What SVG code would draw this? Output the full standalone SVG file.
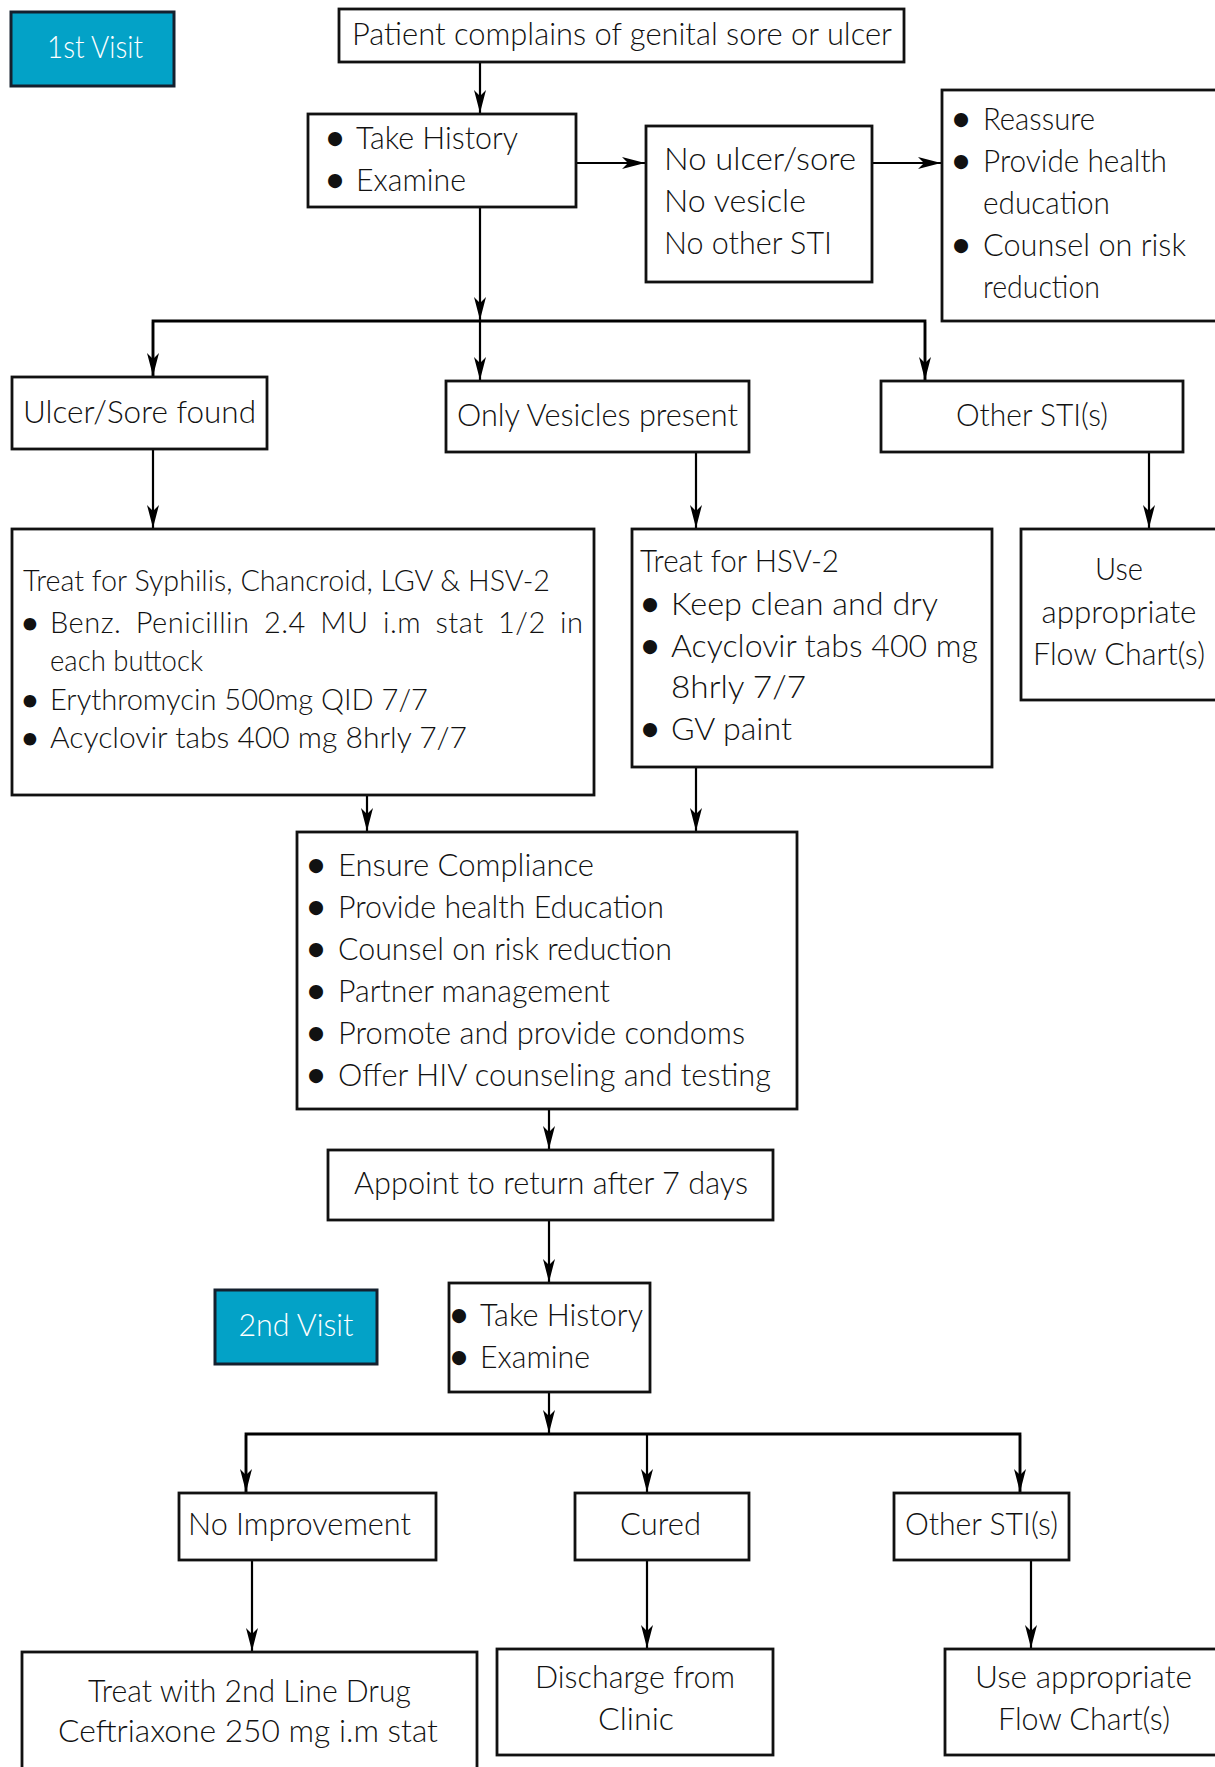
<svg xmlns="http://www.w3.org/2000/svg" width="1215" height="1767" viewBox="0 0 1215 1767">
<style>
.box{fill:#fff;stroke:#111;stroke-width:2.8}
.visit{fill:#03a2c7;stroke:#14202e;stroke-width:3}
.t{font-family:Lato,"Open Sans","Liberation Sans",sans-serif;font-weight:300;fill:#111;font-size:32px}
.s{font-size:29px}
.c{text-anchor:middle}
.b{text-anchor:middle;font-weight:700}
.w{fill:#fff}
.ln{stroke:#000;stroke-width:2.2;fill:none}
.bar{stroke:#000;stroke-width:2.8;fill:none}
</style>
<defs>
<marker id="ah" markerUnits="userSpaceOnUse" markerWidth="26" markerHeight="14" viewBox="-24 -7 26 14" refX="0" refY="0" orient="auto">
<path d="M0,0 L-23,-6 L-17,0 L-23,6 Z" fill="#000"/>
</marker>
</defs>
<rect width="1215" height="1767" fill="#fff"/>

<g id="connectors">
<line class="ln" x1="480" y1="62" x2="480" y2="113" marker-end="url(#ah)"/>
<line class="ln" x1="576" y1="163" x2="645" y2="163" marker-end="url(#ah)"/>
<line class="ln" x1="872" y1="163" x2="941" y2="163" marker-end="url(#ah)"/>
<line class="ln" x1="480" y1="207" x2="480" y2="320" marker-end="url(#ah)"/>
<polyline class="bar" points="153,378 153,321 925,321 925,380"/>
<line class="ln" x1="153" y1="322" x2="153" y2="376" marker-end="url(#ah)"/>
<line class="ln" x1="480" y1="321" x2="480" y2="380" marker-end="url(#ah)"/>
<line class="ln" x1="925" y1="322" x2="925" y2="380" marker-end="url(#ah)"/>
<line class="ln" x1="153" y1="449" x2="153" y2="528" marker-end="url(#ah)"/>
<line class="ln" x1="696" y1="452" x2="696" y2="528" marker-end="url(#ah)"/>
<line class="ln" x1="1149" y1="452" x2="1149" y2="528" marker-end="url(#ah)"/>
<line class="ln" x1="367" y1="795" x2="367" y2="831" marker-end="url(#ah)"/>
<line class="ln" x1="696" y1="767" x2="696" y2="831" marker-end="url(#ah)"/>
<line class="ln" x1="549" y1="1109" x2="549" y2="1149" marker-end="url(#ah)"/>
<line class="ln" x1="549" y1="1220" x2="549" y2="1282" marker-end="url(#ah)"/>
<line class="ln" x1="549" y1="1392" x2="549" y2="1433" marker-end="url(#ah)"/>
<polyline class="bar" points="246,1492 246,1434 1020,1434 1020,1492"/>
<line class="ln" x1="246" y1="1435" x2="246" y2="1492" marker-end="url(#ah)"/>
<line class="ln" x1="647" y1="1434" x2="647" y2="1492" marker-end="url(#ah)"/>
<line class="ln" x1="1020" y1="1435" x2="1020" y2="1492" marker-end="url(#ah)"/>
<line class="ln" x1="252" y1="1560" x2="252" y2="1651" marker-end="url(#ah)"/>
<line class="ln" x1="647" y1="1560" x2="647" y2="1648" marker-end="url(#ah)"/>
<line class="ln" x1="1031" y1="1560" x2="1031" y2="1648" marker-end="url(#ah)"/>
</g>

<g id="visit1">
<rect class="visit" x="11" y="12" width="163" height="74"/>
<text class="t c w" x="95" y="58" textLength="96" lengthAdjust="spacingAndGlyphs">1st Visit</text>
</g>

<g id="n_patient">
<rect class="box" x="339" y="9" width="565" height="53"/>
<text class="t c" x="622" y="45" textLength="540" lengthAdjust="spacingAndGlyphs">Patient complains of genital sore or ulcer</text>
</g>

<g id="n_hist1">
<rect class="box" x="308" y="114" width="268" height="93"/>
<text class="t b" x="335" y="149">•</text>
<text class="t" x="356" y="149" textLength="162" lengthAdjust="spacingAndGlyphs">Take History</text>
<text class="t b" x="335" y="191">•</text>
<text class="t" x="356" y="191" textLength="110" lengthAdjust="spacingAndGlyphs">Examine</text>
</g>

<g id="n_none">
<rect class="box" x="646" y="126" width="226" height="156"/>
<text class="t" x="664" y="170" textLength="192" lengthAdjust="spacingAndGlyphs">No ulcer/sore</text>
<text class="t" x="664" y="212" textLength="142" lengthAdjust="spacingAndGlyphs">No vesicle</text>
<text class="t" x="664" y="254" textLength="168" lengthAdjust="spacingAndGlyphs">No other STI</text>
</g>

<g id="n_reassure">
<rect class="box" x="942" y="90" width="290" height="231"/>
<text class="t b" x="961" y="130">•</text>
<text class="t" x="983" y="130" textLength="112" lengthAdjust="spacingAndGlyphs">Reassure</text>
<text class="t b" x="961" y="172">•</text>
<text class="t" x="983" y="172" textLength="184" lengthAdjust="spacingAndGlyphs">Provide health</text>
<text class="t" x="983" y="214" textLength="127" lengthAdjust="spacingAndGlyphs">education</text>
<text class="t b" x="961" y="256">•</text>
<text class="t" x="983" y="256" textLength="203" lengthAdjust="spacingAndGlyphs">Counsel on risk</text>
<text class="t" x="983" y="298" textLength="117" lengthAdjust="spacingAndGlyphs">reduction</text>
</g>

<g id="n_ulcer">
<rect class="box" x="12" y="377" width="255" height="72"/>
<text class="t c" x="139.5" y="423" textLength="233" lengthAdjust="spacingAndGlyphs">Ulcer/Sore found</text>
</g>

<g id="n_vesicles">
<rect class="box" x="446" y="381" width="303" height="71"/>
<text class="t c" x="597.5" y="426" textLength="281" lengthAdjust="spacingAndGlyphs">Only Vesicles present</text>
</g>

<g id="n_other1">
<rect class="box" x="881" y="381" width="302" height="71"/>
<text class="t c" x="1032" y="426" textLength="152" lengthAdjust="spacingAndGlyphs">Other STI(s)</text>
</g>

<g id="n_treat1">
<rect class="box" x="12" y="529" width="582" height="266"/>
<text class="t s" x="23" y="591" textLength="527" lengthAdjust="spacingAndGlyphs">Treat for Syphilis, Chancroid, LGV &amp; HSV-2</text>
<text class="t s b" x="30" y="633">•</text>
<text class="t s" x="50" y="633" textLength="533" lengthAdjust="spacing" word-spacing="6">Benz. Penicillin 2.4 MU i.m stat 1/2 in</text>
<text class="t s" x="50" y="671" textLength="153" lengthAdjust="spacingAndGlyphs">each buttock</text>
<text class="t s b" x="30" y="710">•</text>
<text class="t s" x="50" y="710" textLength="378" lengthAdjust="spacingAndGlyphs">Erythromycin 500mg QID 7/7</text>
<text class="t s b" x="30" y="748">•</text>
<text class="t s" x="50" y="748" textLength="417" lengthAdjust="spacingAndGlyphs">Acyclovir tabs 400 mg 8hrly 7/7</text>
</g>

<g id="n_treat2">
<rect class="box" x="632" y="529" width="360" height="238"/>
<text class="t" x="640" y="572" textLength="199" lengthAdjust="spacingAndGlyphs">Treat for HSV-2</text>
<text class="t b" x="650" y="615">•</text>
<text class="t" x="671" y="615" textLength="267" lengthAdjust="spacingAndGlyphs">Keep clean and dry</text>
<text class="t b" x="650" y="657">•</text>
<text class="t" x="671" y="657" textLength="307" lengthAdjust="spacingAndGlyphs">Acyclovir tabs 400 mg</text>
<text class="t" x="671" y="698" textLength="135" lengthAdjust="spacingAndGlyphs">8hrly 7/7</text>
<text class="t b" x="650" y="740">•</text>
<text class="t" x="671" y="740" textLength="121" lengthAdjust="spacingAndGlyphs">GV paint</text>
</g>

<g id="n_flow1">
<rect class="box" x="1021" y="529" width="220" height="171"/>
<text class="t c" x="1119" y="580" textLength="48" lengthAdjust="spacingAndGlyphs">Use</text>
<text class="t c" x="1119" y="623" textLength="155" lengthAdjust="spacingAndGlyphs">appropriate</text>
<text class="t c" x="1119" y="665" textLength="172" lengthAdjust="spacingAndGlyphs">Flow Chart(s)</text>
</g>

<g id="n_care">
<rect class="box" x="297" y="832" width="500" height="277"/>
<text class="t b" x="316" y="876">•</text>
<text class="t" x="338" y="876" textLength="256" lengthAdjust="spacingAndGlyphs">Ensure Compliance</text>
<text class="t b" x="316" y="918">•</text>
<text class="t" x="338" y="918" textLength="326" lengthAdjust="spacingAndGlyphs">Provide health Education</text>
<text class="t b" x="316" y="960">•</text>
<text class="t" x="338" y="960" textLength="334" lengthAdjust="spacingAndGlyphs">Counsel on risk reduction</text>
<text class="t b" x="316" y="1002">•</text>
<text class="t" x="338" y="1002" textLength="272" lengthAdjust="spacingAndGlyphs">Partner management</text>
<text class="t b" x="316" y="1044">•</text>
<text class="t" x="338" y="1044" textLength="407" lengthAdjust="spacingAndGlyphs">Promote and provide condoms</text>
<text class="t b" x="316" y="1086">•</text>
<text class="t" x="338" y="1086" textLength="433" lengthAdjust="spacingAndGlyphs">Offer HIV counseling and testing</text>
</g>

<g id="n_appoint">
<rect class="box" x="328" y="1150" width="445" height="70"/>
<text class="t c" x="551" y="1194" textLength="394" lengthAdjust="spacingAndGlyphs">Appoint to return after 7 days</text>
</g>

<g id="visit2">
<rect class="visit" x="215" y="1290" width="162" height="74"/>
<text class="t c w" x="296" y="1336" textLength="115" lengthAdjust="spacingAndGlyphs">2nd Visit</text>
</g>

<g id="n_hist2">
<rect class="box" x="449" y="1283" width="201" height="109"/>
<text class="t b" x="459" y="1326">•</text>
<text class="t" x="480" y="1326" textLength="163" lengthAdjust="spacingAndGlyphs">Take History</text>
<text class="t b" x="459" y="1368">•</text>
<text class="t" x="480" y="1368" textLength="110" lengthAdjust="spacingAndGlyphs">Examine</text>
</g>

<g id="n_noimp">
<rect class="box" x="179" y="1493" width="257" height="67"/>
<text class="t c" x="299.5" y="1535" textLength="223" lengthAdjust="spacingAndGlyphs">No Improvement</text>
</g>

<g id="n_cured">
<rect class="box" x="575" y="1493" width="174" height="67"/>
<text class="t c" x="660.5" y="1535" textLength="81" lengthAdjust="spacingAndGlyphs">Cured</text>
</g>

<g id="n_other2">
<rect class="box" x="894" y="1493" width="175" height="67"/>
<text class="t c" x="981.5" y="1535" textLength="153" lengthAdjust="spacingAndGlyphs">Other STI(s)</text>
</g>

<g id="n_ceft">
<rect class="box" x="22" y="1652" width="455" height="140"/>
<text class="t c" x="249.5" y="1702" textLength="323" lengthAdjust="spacingAndGlyphs">Treat with 2nd Line Drug</text>
<text class="t c" x="248" y="1742" textLength="380" lengthAdjust="spacingAndGlyphs">Ceftriaxone 250 mg i.m stat</text>
</g>

<g id="n_discharge">
<rect class="box" x="497" y="1649" width="276" height="106"/>
<text class="t c" x="635" y="1688" textLength="200" lengthAdjust="spacingAndGlyphs">Discharge from</text>
<text class="t c" x="636" y="1730" textLength="76" lengthAdjust="spacingAndGlyphs">Clinic</text>
</g>

<g id="n_flow2">
<rect class="box" x="945" y="1649" width="300" height="106"/>
<text class="t c" x="1083.5" y="1688" textLength="217" lengthAdjust="spacingAndGlyphs">Use appropriate</text>
<text class="t c" x="1084" y="1730" textLength="172" lengthAdjust="spacingAndGlyphs">Flow Chart(s)</text>
</g>
</svg>
